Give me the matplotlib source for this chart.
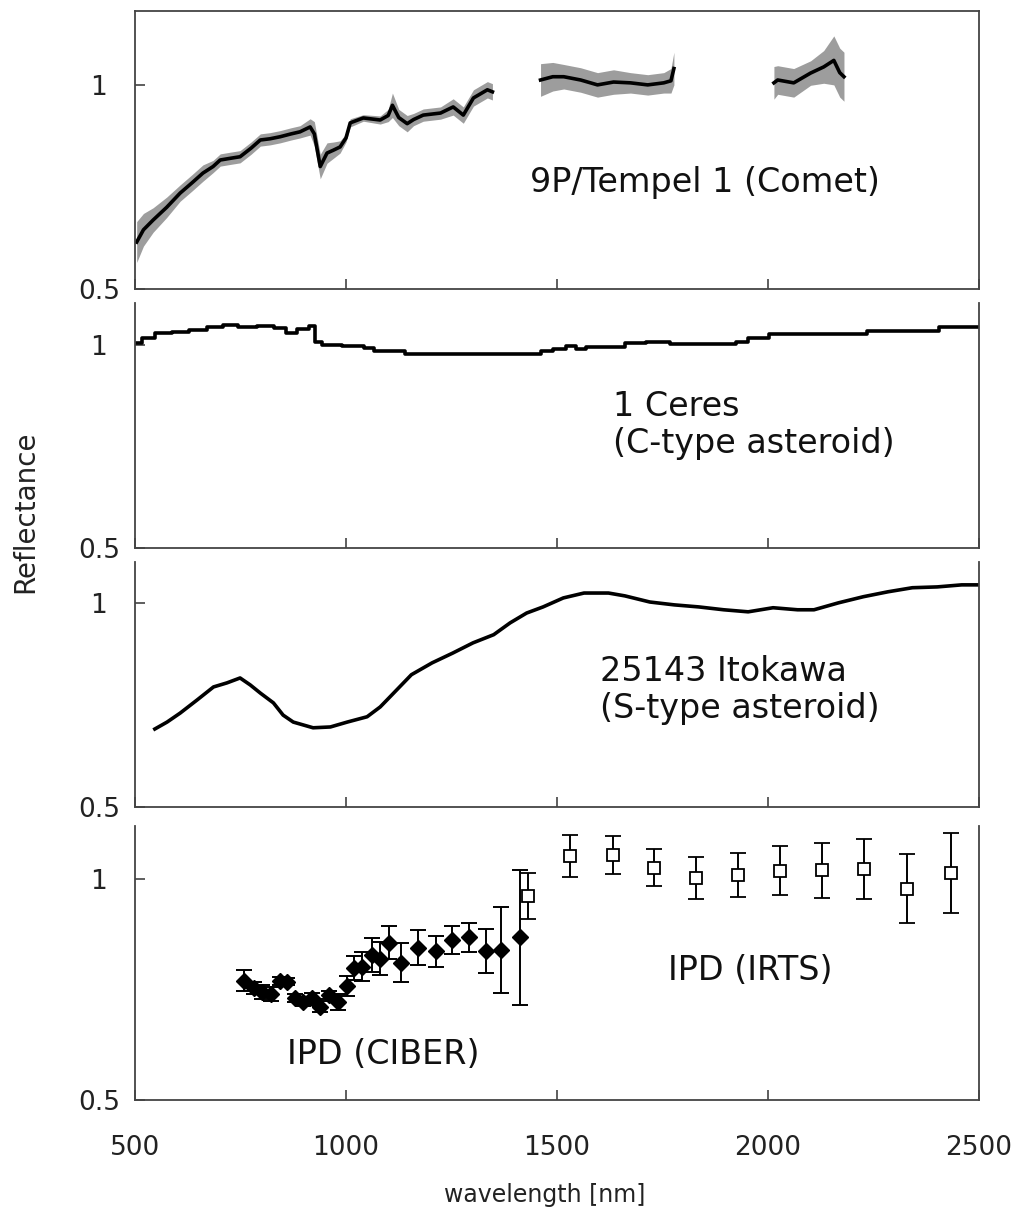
import matplotlib
matplotlib.use("Agg")
import matplotlib.pyplot as plt
import numpy as np

plt.rcParams['font.family'] = ['DejaVu Sans']

# --- 9P/Tempel 1 (three separate pieces of spectrum)
tempel_nm_1 = [504, 520, 543, 575, 607, 635, 661, 685, 702, 725, 749, 775, 797, 820, 844,
               870, 891, 915, 925, 939, 955, 970, 986, 1000, 1010, 1041, 1081, 1100, 1110,
               1125, 1145, 1160, 1183, 1224, 1254, 1278, 1302, 1335, 1347]
tempel_val_1 = [0.615, 0.645, 0.669, 0.700, 0.735, 0.760, 0.784, 0.800, 0.816, 0.820, 0.824,
                0.845, 0.865, 0.868, 0.873, 0.880, 0.885, 0.897, 0.880, 0.800, 0.833, 0.840,
                0.848, 0.870, 0.907, 0.919, 0.914, 0.925, 0.950, 0.920, 0.905, 0.915, 0.926,
                0.931, 0.946, 0.926, 0.968, 0.988, 0.983]
tempel_spr_1 = [0.05, 0.04, 0.03, 0.025, 0.02, 0.02, 0.02, 0.015, 0.015, 0.015, 0.015, 0.015,
                0.015, 0.015, 0.015, 0.015, 0.015, 0.02, 0.03, 0.03, 0.025, 0.02, 0.015, 0.01,
                0.01, 0.008, 0.01, 0.015, 0.03, 0.02, 0.02, 0.015, 0.015, 0.015, 0.02, 0.02,
                0.02, 0.02, 0.02]

tempel_nm_2 = [1461, 1490, 1516, 1556, 1596, 1634, 1674, 1715, 1753, 1770, 1777]
tempel_val_2 = [1.012, 1.020, 1.020, 1.012, 1.000, 1.007, 1.005, 1.000, 1.005, 1.010, 1.040]
tempel_spr_2 = [0.04, 0.035, 0.03, 0.03, 0.03, 0.03, 0.025, 0.025, 0.025, 0.03, 0.04]

tempel_nm_3 = [2014, 2023, 2061, 2101, 2132, 2156, 2170, 2180]
tempel_val_3 = [1.005, 1.012, 1.005, 1.029, 1.044, 1.060, 1.030, 1.020]
tempel_spr_3 = [0.04, 0.035, 0.035, 0.03, 0.04, 0.06, 0.06, 0.06]

# --- 1 Ceres
ceres_nm = [505, 528, 567, 607, 647, 694, 725, 765, 813, 844, 870, 900, 923, 931, 955, 1026,
            1058, 1077, 1126, 1155, 1447, 1476, 1506, 1535, 1554, 1583, 1642, 1681, 1739,
            1798, 1914, 1934, 1973, 2031, 2216, 2255, 2391, 2420, 2500]
ceres_val = [1.005, 1.017, 1.030, 1.032, 1.037, 1.044, 1.049, 1.044, 1.047, 1.042, 1.030,
             1.040, 1.047, 1.007, 1.000, 0.998, 0.992, 0.986, 0.984, 0.978, 0.978, 0.984,
             0.989, 0.996, 0.989, 0.994, 0.994, 1.004, 1.008, 1.002, 1.002, 1.008, 1.016,
             1.027, 1.027, 1.035, 1.035, 1.044, 1.044]

# --- 25143 Itokawa
itokawa_nm = [547, 576, 607, 647, 686, 718, 749, 773, 797, 828, 851, 875, 922, 963, 1003,
              1050, 1081, 1097, 1155, 1204, 1253, 1301, 1350, 1389, 1428, 1467, 1515, 1564,
              1622, 1661, 1720, 1778, 1836, 1895, 1953, 2012, 2070, 2109, 2167, 2226, 2284,
              2342, 2401, 2459, 2500]
itokawa_val = [0.691, 0.708, 0.730, 0.762, 0.794, 0.804, 0.816, 0.799, 0.779, 0.755, 0.725,
               0.708, 0.694, 0.696, 0.708, 0.721, 0.745, 0.762, 0.824, 0.853, 0.877, 0.902,
               0.922, 0.951, 0.975, 0.990, 1.012, 1.024, 1.024, 1.017, 1.002, 0.995, 0.990,
               0.983, 0.978, 0.988, 0.983, 0.983, 1.000, 1.015, 1.027, 1.037, 1.039, 1.044,
               1.044]

# --- IPD (CIBER)
ciber_nm = [759, 781, 801, 822, 844, 860, 880, 898, 919, 939, 959, 982, 1002, 1018, 1039,
            1061, 1081, 1101, 1131, 1171, 1213, 1250, 1291, 1332, 1368, 1412]
ciber_val = [0.770, 0.753, 0.744, 0.739, 0.770, 0.768, 0.730, 0.722, 0.731, 0.711, 0.738,
             0.722, 0.758, 0.798, 0.802, 0.828, 0.820, 0.856, 0.811, 0.845, 0.837, 0.862,
             0.868, 0.837, 0.839, 0.868]
ciber_err = [0.024, 0.013, 0.016, 0.016, 0.009, 0.008, 0.009, 0.009, 0.011, 0.013, 0.009,
             0.018, 0.022, 0.027, 0.032, 0.038, 0.038, 0.038, 0.045, 0.040, 0.035, 0.032,
             0.032, 0.049, 0.098, 0.152]

# --- IPD (IRTS)
irts_nm = [1431, 1530, 1632, 1729, 1829, 1928, 2028, 2129, 2228, 2330, 2434]
irts_val = [0.962, 1.052, 1.054, 1.026, 1.002, 1.009, 1.019, 1.020, 1.022, 0.978, 1.014]
irts_err = [0.052, 0.048, 0.043, 0.041, 0.047, 0.050, 0.056, 0.062, 0.068, 0.078, 0.091]

W, H = 1014, 1213
fig = plt.figure(figsize=(W / 100, H / 100), dpi=100)

left = 135 / W
width = (979 - 135) / W
# (top px, bottom px, ymax)
panels = [(11, 289, 1.181), (303, 548, 1.103), (562, 807, 1.100), (826, 1100, 1.120)]
axes = []
for top, bot, ymax in panels:
    ax = fig.add_axes([left, 1 - bot / H, width, (bot - top) / H])
    ax.set_xlim(500, 2500)
    ax.set_ylim(0.5, ymax)
    ax.set_xticks([500, 1000, 1500, 2000, 2500])
    ax.set_yticks([0.5, 1])
    ax.set_yticklabels(['0.5', '1'])
    ax.tick_params(direction='in', length=7, width=1.1, color='#333333',
                   labelsize=19, pad=26, labelcolor='#222222')
    ax.tick_params(axis='x', labelbottom=False, pad=25)
    for lab in ax.get_yticklabels():
        lab.set_horizontalalignment('center')
    for s in ax.spines.values():
        s.set_color('#444444')
        s.set_linewidth(1.3)
    axes.append(ax)

for ax in axes[1:]:
    ax.spines['top'].set_visible(False)

ax1, ax2, ax3, ax4 = axes

# Tempel 1
for nm, val, spr in [(tempel_nm_1, tempel_val_1, tempel_spr_1),
                     (tempel_nm_2, tempel_val_2, tempel_spr_2),
                     (tempel_nm_3, tempel_val_3, tempel_spr_3)]:
    nm = np.array(nm)
    val = np.array(val)
    spr = np.array(spr)
    ax1.fill_between(nm, val - spr, val + spr, color='0.3', lw=0, alpha=0.55)
    ax1.plot(nm, val, color='black', lw=2.6)
ax1.text(1437, 0.76, '9P/Tempel 1 (Comet)', fontsize=24, ha='left', va='center',
         color='#111111')

# Ceres
ax2.plot(ceres_nm, ceres_val, color='black', lw=2.6, drawstyle='steps-mid')
ax2.text(1632, 0.803, '1 Ceres\n(C-type asteroid)', fontsize=24, ha='left', va='center',
         linespacing=1.15, color='#111111')

# Itokawa
ax3.plot(itokawa_nm, itokawa_val, color='black', lw=2.6)
ax3.text(1603, 0.787, '25143 Itokawa\n(S-type asteroid)', fontsize=24, ha='left',
         va='center', linespacing=1.15, color='#111111')

# IPD
ax4.errorbar(ciber_nm, ciber_val, yerr=ciber_err, fmt='D', color='black', ms=8,
             elinewidth=1.4, capsize=5.5, capthick=1.4)
ax4.errorbar(irts_nm, irts_val, yerr=irts_err, fmt='s', mfc='white', mec='black',
             color='black', ms=8, mew=1.3, elinewidth=1.4, capsize=5.5, capthick=1.4)
ax4.text(860, 0.602, 'IPD (CIBER)', fontsize=24, ha='left', va='center', color='#111111')
ax4.text(1764, 0.794, 'IPD (IRTS)', fontsize=24, ha='left', va='center', color='#111111')
ax4.tick_params(axis='x', labelbottom=True)

fig.text(25 / W, 1 - 512 / H, 'Reflectance', rotation=90, fontsize=20,
         ha='center', va='center', color='#222222')
fig.text(545 / W, 1 - 1195 / H, 'wavelength [nm]', fontsize=17,
         ha='center', va='center', color='#222222')

fig.savefig('out.png', dpi=100)
